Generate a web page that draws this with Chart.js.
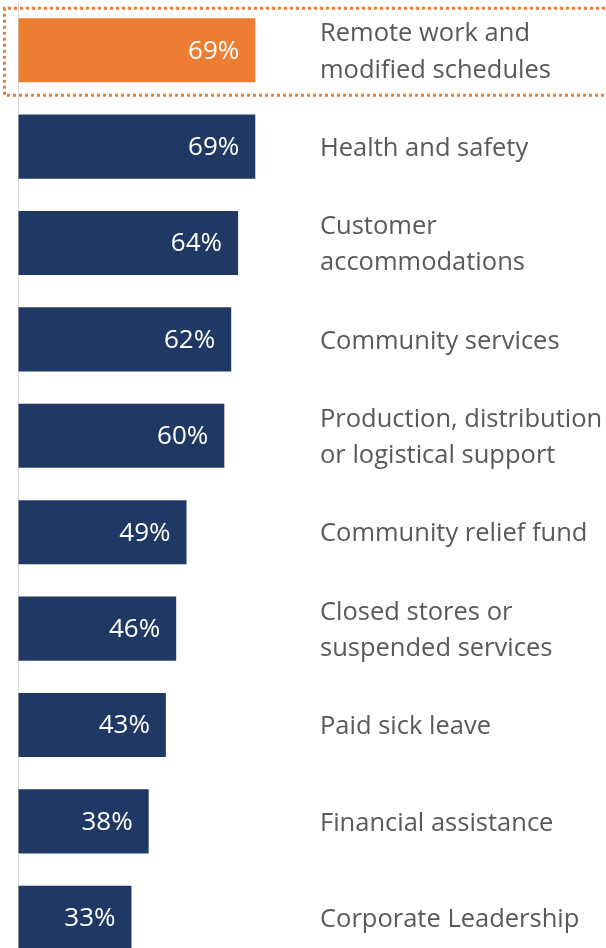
<!DOCTYPE html>
<html>
<head>
<meta charset="utf-8">
<script src="https://cdn.jsdelivr.net/npm/chart.js@4/dist/chart.umd.min.js"></script>
<style>
  html, body { margin: 0; padding: 0; background: #ffffff; overflow: hidden; }
  #wrap { position: relative; width: 606px; height: 966px; }
</style>
</head>
<body>
<div id="wrap"><canvas id="c"></canvas></div>
<script>
// Actions taken, share of respondents
const categories = [
  ['Remote work and', 'modified schedules'],
  'Health and safety',
  ['Customer', 'accommodations'],
  'Community services',
  ['Production, distribution', 'or logistical support'],
  'Community relief fund',
  ['Closed stores or', 'suspended services'],
  'Paid sick leave',
  'Financial assistance',
  'Corporate Leadership'
];
const shares = [69, 69, 64, 62, 60, 49, 46, 43, 38, 33];
const highlightIndex = 0;

const NAVY = '#203864';
const ORANGE = '#ED7D31';
const FONT = "'Open Sans', 'Liberation Sans', sans-serif";

// value labels inside the bar ends + dotted box round the highlighted row
const barDecor = {
  id: 'barDecor',
  afterDatasetsDraw(chart) {
    const ctx = chart.ctx;
    const meta = chart.getDatasetMeta(0);
    ctx.save();
    ctx.font = '26px ' + FONT;
    ctx.fillStyle = '#ffffff';
    ctx.textAlign = 'right';
    ctx.textBaseline = 'middle';
    meta.data.forEach((bar, i) => {
      ctx.fillText(shares[i] + '%', bar.x - 16, bar.y + 1);
    });
    // dotted outline
    const y = chart.scales.y;
    const cy = y.getPixelForValue(highlightIndex);
    ctx.strokeStyle = ORANGE;
    ctx.lineWidth = 3;
    ctx.setLineDash([3, 3]);
    ctx.beginPath();
    ctx.moveTo(chart.width + 5, cy - 42);
    ctx.lineTo(4.5, cy - 42);
    ctx.lineTo(4.5, cy + 45);
    ctx.lineTo(chart.width + 5, cy + 45);
    ctx.stroke();
    ctx.restore();
  }
};

new Chart(document.getElementById('c'), {
  type: 'bar',
  data: {
    labels: categories,
    datasets: [{
      data: shares,
      backgroundColor: shares.map((v, i) => i === highlightIndex ? ORANGE : NAVY),
      borderWidth: 0,
      categoryPercentage: 1,
      barPercentage: 0.665
    }]
  },
  options: {
    indexAxis: 'y',
    responsive: true,
    maintainAspectRatio: false,
    animation: false,
    layout: { padding: { top: 2, left: 18, right: 0, bottom: 0 } },
    plugins: { legend: { display: false }, tooltip: { enabled: false } },
    scales: {
      x: {
        min: 0,
        max: 82,
        ticks: { display: false, stepSize: 10 },
        border: { display: false },
        grid: {
          drawTicks: false,
          color: c => c.tick && c.tick.value === 0 ? '#d9d9d9' : 'rgba(0,0,0,0)',
          lineWidth: 1
        }
      },
      y: {
        position: 'right',
        grid: { display: false, drawTicks: false },
        border: { display: false },
        afterFit: s => {
          s.width = 306;
          s.paddingTop = 0;
          s.paddingBottom = 0;
        },
        ticks: {
          padding: 20,
          labelOffset: 2,
          color: '#595959',
          font: { family: FONT, size: 25.5, lineHeight: 1.42 }
        }
      }
    }
  },
  plugins: [barDecor]
});
</script>
</body>
</html>
